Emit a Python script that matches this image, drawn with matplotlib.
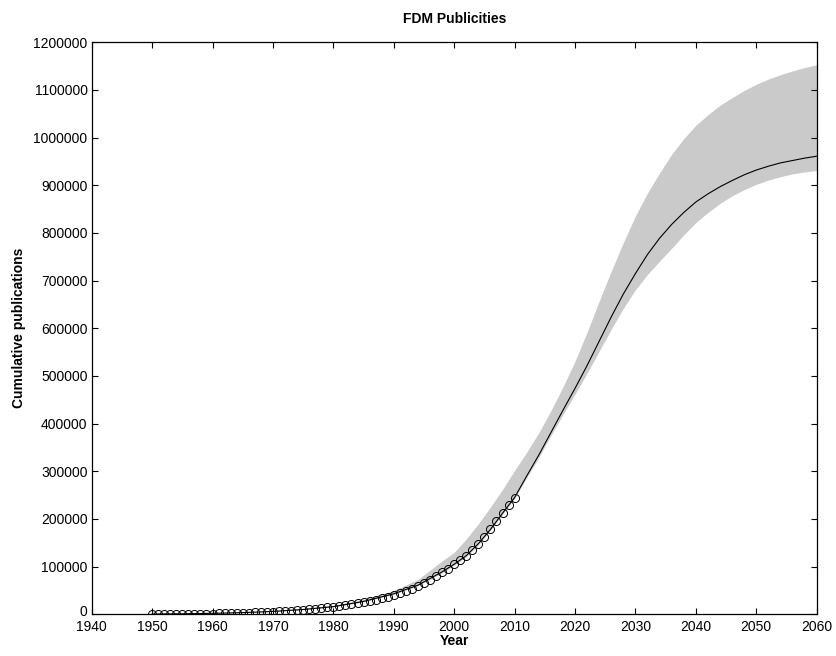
import matplotlib
matplotlib.use("Agg")
import matplotlib.pyplot as plt
import matplotlib.transforms as mtransforms
import numpy as np

plt.rcParams['font.family'] = ['Liberation Sans', 'DejaVu Sans']

# observed cumulative publications (yearly)
obs_years = list(range(1950, 2011))
obs_values = [300, 400, 500, 600, 700, 800, 900, 1000, 1200, 1400,
              1600, 1800, 2000, 2300, 2600, 3000, 3400, 3800, 4300, 4800,
              5400, 6000, 6800, 7600, 8500, 9500, 10500, 11700, 13000, 14400,
              16000, 17800, 19600, 21500, 23600, 26000, 28500, 31000, 34000, 37000,
              41000, 45000, 49000, 54000, 59000, 65000, 72000, 80000, 88000, 96000,
              105000, 113000, 123000, 134000, 148000, 163000, 178000, 195000, 212000, 229000,
              243000]

# model fit and confidence band
model_years = [1950, 1955, 1960, 1965, 1970, 1975, 1980, 1985, 1990, 1994, 1998,
               2000, 2002, 2004, 2006, 2008, 2010, 2012, 2014, 2016, 2018, 2020,
               2022, 2024, 2026, 2028, 2030, 2032, 2034, 2036, 2038, 2040, 2042,
               2044, 2046, 2048, 2050, 2052, 2054, 2056, 2058, 2060]
model_mid = [500, 1000, 2000, 3500, 6000, 10000, 16000, 27000, 43000, 61000, 89000,
             105000, 123000, 148000, 178000, 212000, 245000, 290000, 334000, 381000, 428000, 474000,
             522000, 573000, 624000, 672000, 715000, 755000, 789000, 818000, 843000, 865000, 882000,
             897000, 910000, 922000, 932000, 940000, 947000, 952000, 957000, 961000]
model_upper = [600, 1200, 2500, 4500, 7000, 12000, 19000, 31000, 50000, 73000, 112000,
               130000, 158000, 190000, 225000, 262000, 302000, 340000, 381000, 427000, 477000, 531000,
               592000, 657000, 720000, 780000, 836000, 884000, 926000, 965000, 998000, 1026000, 1048000,
               1068000, 1084000, 1099000, 1112000, 1123000, 1132000, 1140000, 1147000, 1153000]
model_lower = [480, 950, 1900, 3400, 5800, 9700, 15500, 26000, 42000, 60000, 87000,
               103000, 121000, 146000, 176000, 210000, 243000, 287000, 329000, 375000, 419000, 462000,
               506000, 552000, 598000, 642000, 681000, 713000, 741000, 768000, 796000, 822000, 843000,
               862000, 878000, 891000, 902000, 911000, 918000, 924000, 928000, 931000]

x_ticks = list(range(1940, 2061, 10))
y_ticks = list(range(0, 1200001, 100000))

fig = plt.figure(figsize=(8.36, 6.56), dpi=100)
ax = fig.add_axes([0.1097, 0.0636, 0.8672, 0.8719])

ax.fill_between(model_years, model_lower, model_upper, color='#cacaca', linewidth=0, zorder=1)
ax.plot(model_years, model_mid, color='black', linewidth=0.8, zorder=2)
ax.plot(obs_years, obs_values, linestyle='none', marker='o', markersize=5.8,
        markerfacecolor='none', markeredgecolor='black', markeredgewidth=0.7, zorder=3)

ax.set_xlim(1940, 2060)
ax.set_ylim(0, 1200000)
ax.set_xticks(x_ticks)
ax.set_yticks(y_ticks)
ax.set_xticklabels([str(t) for t in x_ticks])
ax.set_yticklabels([str(t) for t in y_ticks])
ax.tick_params(direction='in', length=4, width=0.8, top=True, right=True,
               labelsize=10)
ax.tick_params(axis='x', pad=4)
ax.tick_params(axis='y', pad=3)
for s in ax.spines.values():
    s.set_linewidth(0.9)

# nudge the "0" label up slightly so it sits clear of the x tick labels
zero_lbl = ax.yaxis.get_major_ticks()[0].label1
zero_lbl.set_transform(zero_lbl.get_transform() +
                       mtransforms.ScaledTranslation(0, 3 / 72, fig.dpi_scale_trans))

ax.set_title('FDM Publicities', fontsize=10, fontweight='bold', pad=14)
ax.set_xlabel('Year', fontsize=10, fontweight='bold', labelpad=0)
ax.set_ylabel('Cumulative publications', fontsize=10, fontweight='bold', labelpad=5)

fig.savefig('out.png', dpi=100)
